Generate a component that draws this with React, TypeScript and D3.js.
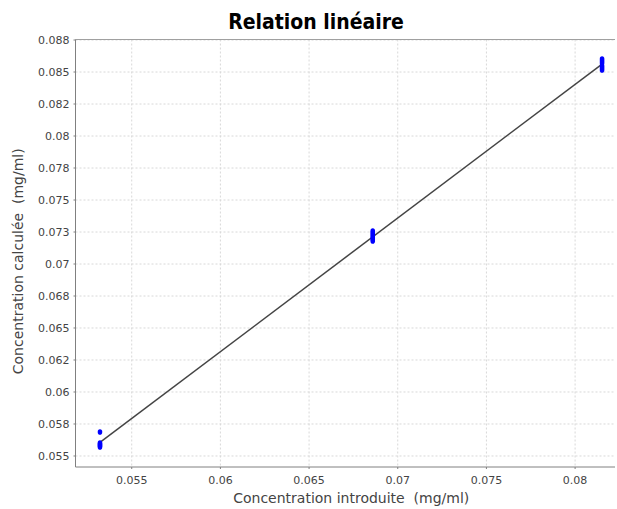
import React from "react";
import * as d3 from "d3";

// Measured concentrations: introduced (x) vs calculated (y), three levels with replicates
const introduced: number[] = [
  0.05321, 0.05321, 0.05321, 0.05321, 0.05321, 0.05321,
  0.06859, 0.06859, 0.06859, 0.06859, 0.06859, 0.06859,
  0.08152, 0.08152, 0.08152, 0.08152, 0.08152, 0.08152,
];
const calculated: number[] = [
  0.05688, 0.05602, 0.05594, 0.05586, 0.05578, 0.0557,
  0.07258, 0.07242, 0.07227, 0.07211, 0.07195, 0.07180,
  0.08602, 0.08586, 0.08570, 0.08547, 0.08531, 0.08516,
];

const xTickValues: number[] = [0.055, 0.06, 0.065, 0.07, 0.075, 0.08];
const xTickLabels: string[] = ["0.055", "0.06", "0.065", "0.07", "0.075", "0.08"];
const yTickValues: number[] = [
  0.055, 0.0575, 0.06, 0.0625, 0.065, 0.0675, 0.07, 0.0725, 0.075, 0.0775, 0.08, 0.0825, 0.085, 0.0875,
];
const yTickLabels: string[] = [
  "0.055", "0.058", "0.06", "0.062", "0.065", "0.068", "0.07", "0.073", "0.075", "0.078", "0.08", "0.082", "0.085", "0.088",
];

const title = "Relation linéaire";
const xTitle = "Concentration introduite  (mg/ml)";
const yTitle = "Concentration calculée  (mg/ml)";

const W = 617;
const H = 509;
const plot = { left: 75.5, right: 615, top: 39.5, bottom: 467 };

export default function App() {
  const x = d3.scaleLinear().domain([0.05183, 0.08225]).range([plot.left, plot.right]);
  const y = d3.scaleLinear().domain([0.05414, 0.08754]).range([plot.bottom, plot.top]);

  // least-squares fit
  const mx = d3.mean(introduced)!;
  const my = d3.mean(calculated)!;
  let sxy = 0;
  let sxx = 0;
  introduced.forEach((v, i) => {
    sxy += (v - mx) * (calculated[i] - my);
    sxx += (v - mx) * (v - mx);
  });
  const slope = sxy / sxx;
  const intercept = my - slope * mx;
  const [xmin, xmax] = d3.extent(introduced) as [number, number];
  const fit: [number, number][] = [
    [xmin, intercept + slope * xmin],
    [xmax, intercept + slope * xmax],
  ];
  const lineGen = d3
    .line<[number, number]>()
    .x((d) => x(d[0]))
    .y((d) => y(d[1]));

  const font = "'DejaVu Sans', sans-serif";

  return (
    <svg
      width={W}
      height={H}
      style={{ position: "absolute", left: 0, top: 0, background: "#fff" }}
      fontFamily={font}
    >
      <rect x={0} y={0} width={W} height={H} fill="#fff" />
      <text
        x={316}
        y={29}
        textAnchor="middle"
        fontSize={21}
        fontWeight="bold"
        fill="#000"
        fontFamily="'DejaVu Sans Condensed', 'DejaVu Sans', sans-serif"
      >
        {title}
      </text>

      {/* grid */}
      {xTickValues.map((v) => (
        <line
          key={"gx" + v}
          x1={x(v)}
          x2={x(v)}
          y1={plot.top}
          y2={plot.bottom}
          stroke="#d8d8d8"
          strokeDasharray="2,2"
        />
      ))}
      {yTickValues.map((v) => (
        <line
          key={"gy" + v}
          x1={plot.left}
          x2={plot.right}
          y1={y(v)}
          y2={y(v)}
          stroke="#d8d8d8"
          strokeDasharray="2,2"
        />
      ))}

      {/* plot outline */}
      <line x1={plot.left} x2={plot.right} y1={plot.top} y2={plot.top} stroke="#a0a0a0" />
      <line x1={plot.left} x2={plot.left} y1={plot.top} y2={plot.bottom} stroke="#808080" />
      <line x1={plot.left} x2={plot.right} y1={plot.bottom} y2={plot.bottom} stroke="#808080" />

      {/* y axis ticks */}
      {yTickValues.map((v, i) => (
        <g key={"ty" + v}>
          <line x1={plot.left - 2} x2={plot.left} y1={y(v)} y2={y(v)} stroke="#808080" />
          <text x={plot.left - 6} y={y(v) + 4} textAnchor="end" fontSize={11} fill="#444">
            {yTickLabels[i]}
          </text>
        </g>
      ))}

      {/* x axis ticks */}
      {xTickValues.map((v, i) => (
        <g key={"tx" + v}>
          <line x1={x(v)} x2={x(v)} y1={plot.bottom} y2={plot.bottom + 2} stroke="#808080" />
          <text x={x(v)} y={484} textAnchor="middle" fontSize={11} fill="#444">
            {xTickLabels[i]}
          </text>
        </g>
      ))}

      <text
        x={(plot.left + plot.right) / 2 + 6}
        y={503}
        textAnchor="middle"
        fontSize={14}
        fill="#444"
        style={{ whiteSpace: "pre" }}
      >
        {xTitle}
      </text>
      <text
        transform={`translate(23, ${(plot.top + plot.bottom) / 2 + 8}) rotate(-90)`}
        textAnchor="middle"
        fontSize={14}
        fill="#444"
        style={{ whiteSpace: "pre" }}
      >
        {yTitle}
      </text>

      {/* fitted line */}
      <path d={lineGen(fit)!} fill="none" stroke="#444" strokeWidth={1.5} />

      {/* data points */}
      {introduced.map((v, i) => (
        <ellipse key={"p" + i} cx={x(v)} cy={y(calculated[i])} rx={2.3} ry={2.8} fill="#0000ff" />
      ))}
    </svg>
  );
}
